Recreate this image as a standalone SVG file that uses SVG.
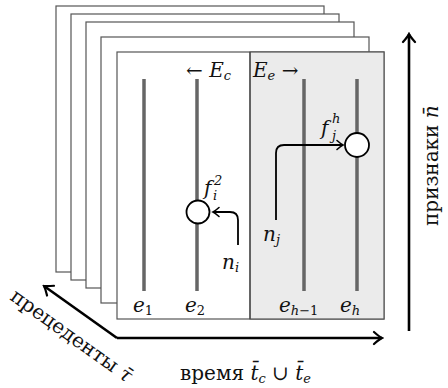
<svg xmlns="http://www.w3.org/2000/svg" width="448" height="388" viewBox="0 0 448 388">
<defs>
<marker id="chev" viewBox="-8 -6 10 12" markerWidth="10" markerHeight="12" refX="0" refY="0" orient="auto" markerUnits="userSpaceOnUse">
<path d="M-6,-4.5 Q-2,-1 0,0 Q-2,1 -6,4.5" fill="none" stroke="#000" stroke-width="1.6" stroke-linecap="round"/>
</marker>
<marker id="chevBig" viewBox="-10 -8 12 16" markerWidth="12" markerHeight="16" refX="0" refY="0" orient="auto" markerUnits="userSpaceOnUse">
<path d="M-8,-6 Q-3,-1.5 0,0 Q-3,1.5 -8,6" fill="none" stroke="#000" stroke-width="2.2" stroke-linecap="round"/>
</marker>
</defs>
<style>
.frame{fill:#fff;stroke:#555;stroke-width:1.2}
.bar{stroke:#666;stroke-width:3.5}
.node{fill:#fff;stroke:#000;stroke-width:1.8}
.conn{fill:none;stroke:#000;stroke-width:1.8}
.axis{fill:none;stroke:#000;stroke-width:2.6}
text{font-family:"DejaVu Serif","Liberation Serif",serif;fill:#111}
.lbl{font-size:20px}
.it{font-style:italic}
.sub{font-size:13px}
</style>
<g id="frames">
<rect class="frame" x="56" y="6" width="268" height="266"/>
<rect class="frame" x="71" y="14" width="268" height="266"/>
<rect class="frame" x="86" y="22" width="268" height="266"/>
<rect class="frame" x="101" y="37" width="268" height="266"/>
<rect class="frame" x="117" y="52" width="267" height="267"/>
<rect x="250" y="52" width="134" height="267" fill="#ebebeb" stroke="#555" stroke-width="1.2"/>
<line x1="250" y1="52" x2="250" y2="319" stroke="#444" stroke-width="1.2"/>
</g>
<g id="bars">
<line class="bar" x1="144" y1="79" x2="144" y2="291"/>
<line class="bar" x1="197" y1="79" x2="197" y2="291"/>
<line class="bar" x1="304" y1="79" x2="304" y2="291"/>
<line class="bar" x1="357" y1="79" x2="357" y2="291"/>
</g>
<g id="connectors">
<path class="conn" d="M238,245 V220 Q238,212 230,212 H213" marker-end="url(#chev)"/>
<path class="conn" d="M276,220 V153 Q276,145 284,145 H343" marker-end="url(#chev)"/>
<path class="axis" d="M117,338 H382" marker-end="url(#chevBig)"/>
<path class="axis" d="M117,338 L44,286" marker-end="url(#chevBig)"/>
<path class="axis" d="M409,331 V34" marker-end="url(#chevBig)"/>
</g>
<g id="node-fi2">
<circle class="node" cx="198" cy="212" r="11.5"/>
</g>
<g id="node-fjh">
<circle class="node" cx="357" cy="145" r="12"/>
</g>
<g id="labels">
<text class="lbl" x="186" y="77">← <tspan class="it">E</tspan><tspan class="it sub" dy="3">c</tspan></text>
<text class="lbl" x="253" y="77"><tspan class="it">E</tspan><tspan class="it sub" dy="3">e</tspan><tspan dy="-3"> →</tspan></text>
<text class="lbl it" x="204" y="195">f</text>
<text class="it sub" x="214" y="185">2</text>
<text class="it sub" x="213" y="200">i</text>
<text class="lbl it" x="321" y="135">f</text>
<text class="it sub" x="332" y="123">h</text>
<text class="it sub" x="332" y="140">j</text>
<text class="lbl it" x="222" y="269">n<tspan class="sub" dy="3">i</tspan></text>
<text class="lbl it" x="263" y="241">n<tspan class="sub" dy="3">j</tspan></text>
<text class="lbl it" x="133" y="312">e<tspan class="sub" dy="3" font-style="normal">1</tspan></text>
<text class="lbl it" x="185" y="312">e<tspan class="sub" dy="3" font-style="normal">2</tspan></text>
<text class="lbl it" x="279" y="312">e<tspan class="sub" dy="3">h</tspan><tspan class="sub" font-style="normal">−1</tspan></text>
<text class="lbl it" x="340" y="312">e<tspan class="sub" dy="3">h</tspan></text>
<text class="lbl" x="180" y="380">время <tspan class="it">t̄</tspan><tspan class="it sub" dy="3">c</tspan><tspan dy="-3"> ∪ </tspan><tspan class="it">t̄</tspan><tspan class="it sub" dy="3">e</tspan></text>
<text class="lbl" transform="translate(438,226) rotate(-90)">признаки <tspan class="it">n̄</tspan></text>
<text class="lbl" font-size="19" transform="translate(9,299) rotate(35.6)">прецеденты <tspan class="it">τ̄</tspan></text>
</g>
</svg>
